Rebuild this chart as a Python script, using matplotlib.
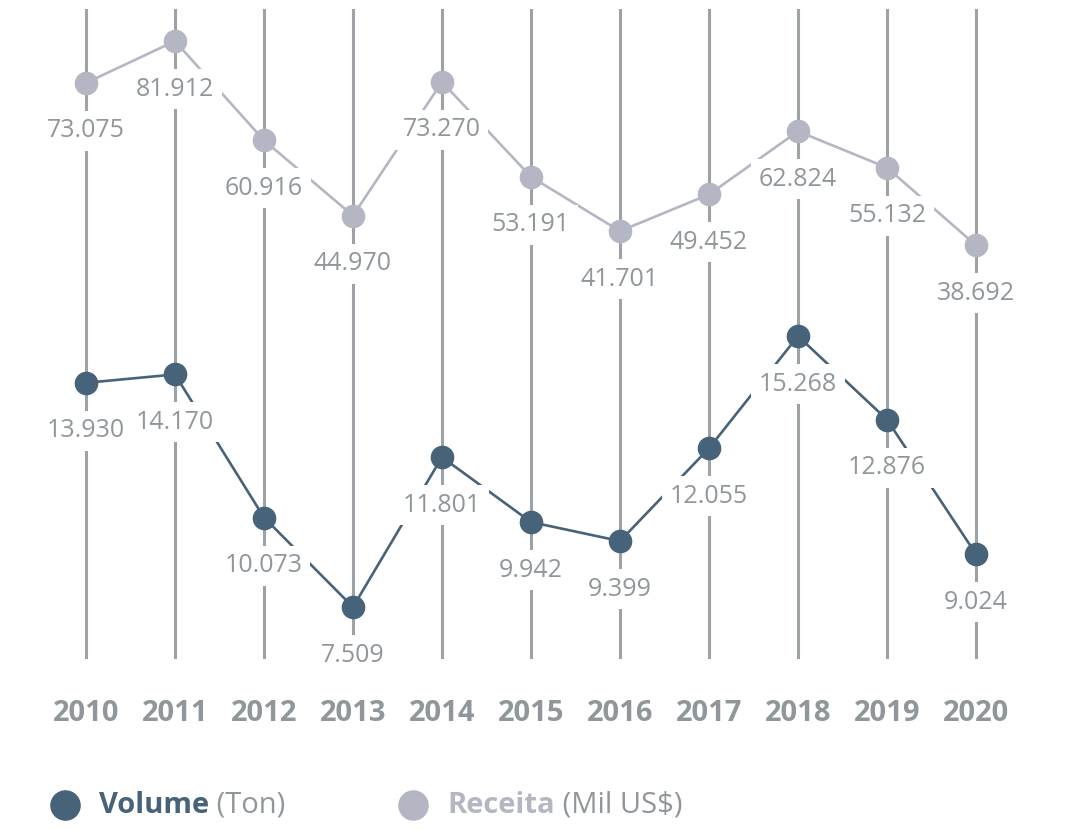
import matplotlib.pyplot as plt

years = list(range(2010, 2021))
volume = [13930, 14170, 10073, 7509, 11801, 9942, 9399, 12055, 15268, 12876, 9024]
receita = [73075, 81912, 60916, 44970, 73270, 53191, 41701, 49452, 62824, 55132, 38692]

DARK = "#46637a"
LIGHT = "#b4b7c3"
GRAY = "#8f979b"
RULE = "#9ca2a6"
FONT = "Open Sans"


def fmt(v):
    return f"{v:,}".replace(",", ".")


def draw_series(ax, values, color):
    ax.plot(years, values, color=color, lw=1.9, zorder=2)
    ax.plot(years, values, "o", color=color, ms=16, zorder=3)
    for x, v in zip(years, values):
        ax.annotate(fmt(v), (x, v), xytext=(0, -48), textcoords="offset pixels",
                    ha="center", va="center", fontsize=18, color=GRAY,
                    family=FONT, zorder=4,
                    bbox=dict(boxstyle="square,pad=0.3", fc="white", ec="none"))


fig = plt.figure(figsize=(10.65, 8.3), dpi=100)
ax = fig.add_axes([0, 0.206, 1, 0.783])
ax2 = ax.twinx()

for a in (ax, ax2):
    a.set_xlim(2009.034, 2021.0)
    for s in a.spines.values():
        s.set_visible(False)
    a.set_yticks([])

ax.set_ylim(6021, 24630)
ax2.set_ylim(-48880, 88685)

for x in years:
    ax.axvline(x, color=RULE, lw=2.2, zorder=1)

draw_series(ax, volume, DARK)
draw_series(ax2, receita, LIGHT)

ax.set_xticks(years)
ax.set_xticklabels([str(y) for y in years], fontsize=21, fontweight="bold",
                   color=GRAY, family=FONT)
ax.tick_params(axis="x", length=0, pad=29)

# legend drawn by hand along the bottom
legend = [(65, DARK, "Volume", "(Ton)"), (413, LIGHT, "Receita", "(Mil US$)")]
for px, color, name, unit in legend:
    fig.add_artist(plt.Line2D([px / 1065], [1 - 805 / 830], marker="o", ms=21,
                              color=color, transform=fig.transFigure))
    t = fig.text((px + 34) / 1065, 1 - 805 / 830, name, fontsize=21,
                 fontweight="bold", color=color, family=FONT, va="center")
    fig.add_artist(plt.Annotation(" " + unit, xy=(1, 0.5), xycoords=t,
                                  va="center", fontsize=21, color=GRAY,
                                  family=FONT))

fig.savefig("out.png", dpi=100, facecolor="white")
